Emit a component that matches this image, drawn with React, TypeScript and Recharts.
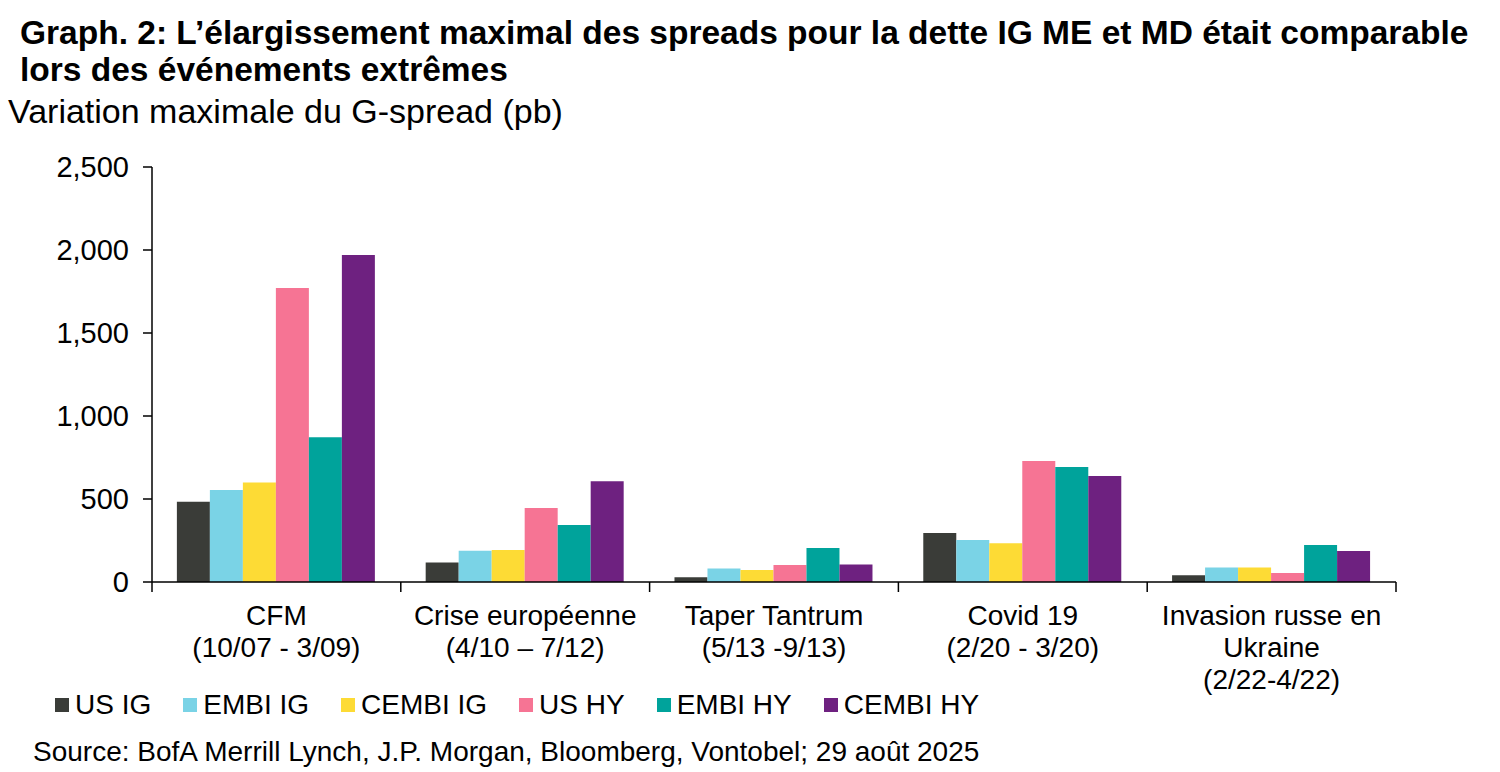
import React from "react";
import { BarChart, Bar, XAxis, YAxis } from "recharts";

const categories = [
  ["CFM", "(10/07 - 3/09)"],
  ["Crise européenne", "(4/10 – 7/12)"],
  ["Taper Tantrum", "(5/13 -9/13)"],
  ["Covid 19", "(2/20 - 3/20)"],
  ["Invasion russe en", "Ukraine", "(2/22-4/22)"],
];

const usIG = [484, 118, 28, 295, 40];
const embiIG = [554, 189, 82, 253, 88];
const cembiIG = [600, 193, 72, 233, 88];
const usHY = [1771, 446, 102, 729, 54];
const embiHY = [872, 343, 205, 693, 223];
const cembiHY = [1970, 607, 106, 639, 187];

const yTicks = [0, 500, 1000, 1500, 2000, 2500];

const series = [
  { key: "usIG", name: "US IG", values: usIG, color: "#3a3c38" },
  { key: "embiIG", name: "EMBI IG", values: embiIG, color: "#7ad3e6" },
  { key: "cembiIG", name: "CEMBI IG", values: cembiIG, color: "#fddb35" },
  { key: "usHY", name: "US HY", values: usHY, color: "#f67494" },
  { key: "embiHY", name: "EMBI HY", values: embiHY, color: "#00a39b" },
  { key: "cembiHY", name: "CEMBI HY", values: cembiHY, color: "#6e2180" },
];

const data = categories.map((lines, i) => {
  const row: Record<string, any> = { cat: lines.join(" "), lines };
  series.forEach((s) => (row[s.key] = s.values[i]));
  return row;
});

const FONT = "'Liberation Sans', Arial, sans-serif";
const PLOT_LEFT = 152;
const PLOT_RIGHT = 1396;
const HALF_BAND = (PLOT_RIGHT - PLOT_LEFT) / categories.length / 2;

function CategoryTick(props: any) {
  const { x, y, index, payload } = props;
  const lines: string[] = data[payload.index ?? index]?.lines ?? [String(payload.value)];
  return (
    <g>
      <line x1={x - HALF_BAND} x2={x - HALF_BAND} y1={y - 8} y2={y + 2} stroke="#000" strokeWidth={1.5} />
      {index === categories.length - 1 && (
        <line x1={x + HALF_BAND} x2={x + HALF_BAND} y1={y - 8} y2={y + 2} stroke="#000" strokeWidth={1.5} />
      )}
      <text x={x} y={y} textAnchor="middle" fontSize={28} fontFamily={FONT} fill="#000">
        {lines.map((l, i) => (
          <tspan key={i} x={x} dy={i === 0 ? 35 : 32}>
            {l}
          </tspan>
        ))}
      </text>
    </g>
  );
}

export default function App() {
  return (
    <div style={{ position: "absolute", left: 0, top: 0, width: 1500, height: 772, background: "#fff", fontFamily: FONT }}>
      <div style={{ position: "absolute", left: 20, top: 14, fontSize: 33.5, fontWeight: "bold", lineHeight: "37px", color: "#000", width: 1480, whiteSpace: "nowrap" }}>
        Graph. 2: L’élargissement maximal des spreads pour la dette IG ME et MD était comparable
        <br />
        lors des événements extrêmes
      </div>
      <div style={{ position: "absolute", left: 8, top: 93, fontSize: 34, lineHeight: "37px", color: "#000", whiteSpace: "nowrap" }}>
        Variation maximale du G-spread (pb)
      </div>
      <BarChart
        width={1500}
        height={772}
        data={data}
        margin={{ top: 167, right: 104, bottom: 80, left: 0 }}
        barCategoryGap="10%"
        barGap={0}
        style={{ position: "absolute", left: 0, top: 0 }}
      >
        <XAxis
          dataKey="cat"
          interval={0}
          height={110}
          axisLine={{ stroke: "#000", strokeWidth: 1.5 }}
          tickLine={false}
          tick={<CategoryTick />}
        />
        <YAxis
          domain={[0, 2500]}
          ticks={yTicks}
          width={PLOT_LEFT}
          tickSize={9}
          tickMargin={14}
          axisLine={{ stroke: "#000", strokeWidth: 1.5 }}
          tickLine={{ stroke: "#000", strokeWidth: 1.5 }}
          tick={{ fontSize: 29, fill: "#000", fontFamily: FONT }}
          tickFormatter={(v: number) => v.toLocaleString("en-US")}
        />
        {series.map((s) => (
          <Bar key={s.key} dataKey={s.key} name={s.name} fill={s.color} isAnimationActive={false} />
        ))}
      </BarChart>
      <div style={{ position: "absolute", left: 55, top: 688, height: 34, display: "flex", alignItems: "center", fontSize: 28, color: "#000", whiteSpace: "nowrap" }}>
        {series.map((s) => (
          <div key={s.key} style={{ display: "flex", alignItems: "center", marginRight: 32 }}>
            <span style={{ display: "inline-block", width: 14, height: 14, background: s.color, marginRight: 6 }} />
            <span>{s.name}</span>
          </div>
        ))}
      </div>
      <div style={{ position: "absolute", left: 33, top: 736, fontSize: 28, lineHeight: "32px", color: "#000", whiteSpace: "nowrap" }}>
        Source: BofA Merrill Lynch, J.P. Morgan, Bloomberg, Vontobel; 29 août 2025
      </div>
    </div>
  );
}
